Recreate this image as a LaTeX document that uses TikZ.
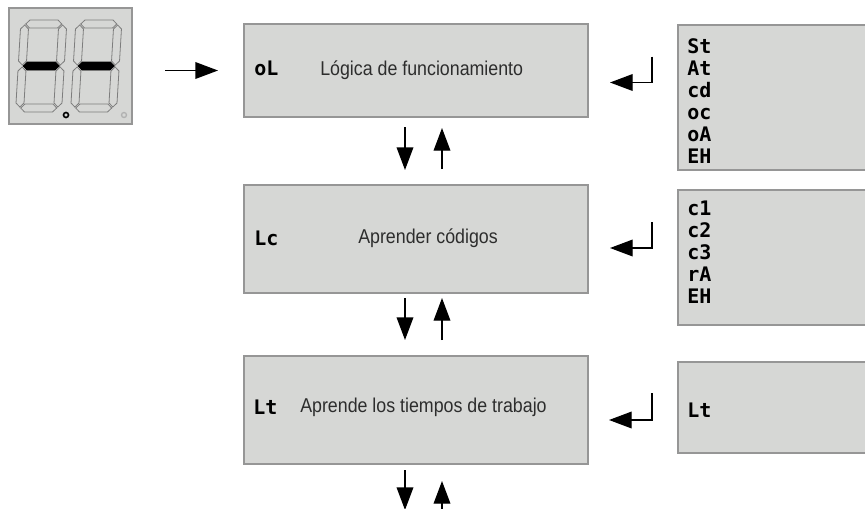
\documentclass[tikz,border=0pt]{standalone}
\usepackage{fontspec}
\usepackage{tikz}
\usetikzlibrary{arrows.meta}
\usetikzlibrary{calc}
\newfontfamily\labelfont[FakeStretch=0.89]{Liberation Sans}
\newfontfamily\codefont{DejaVu Sans Mono}

\definecolor{panelgray}{RGB}{214,215,213}
\definecolor{edgegray}{RGB}{150,150,150}
\definecolor{seggray}{RGB}{125,125,125}
\definecolor{textgray}{RGB}{45,45,45}

\tikzset{
  panel/.style={draw=edgegray, line width=1pt, fill=panelgray, inner sep=0pt, outer sep=0pt},
  mainbox/.style={panel, minimum width=258pt, minimum height=81pt},
  listbox/.style={panel, minimum width=166.5pt, anchor=west},
  flow/.style={-{Triangle[length=17pt,width=12.5pt]}, line width=1pt},
  boxtext/.style={font={\labelfont\fontsize{15}{18}\selectfont}, text=textgray, inner sep=0pt},
  codetext/.style={font={\codefont\bfseries\fontsize{15}{16.5}\selectfont}, align=left, inner sep=0pt},
  seg/.style={draw=seggray, line width=0.6pt}
}

% one segment of the display, horizontal / vertical
\newcommand{\hseg}[4][]{\draw[seg,#1] (#2,#4) -- (#2+4,#4-4) -- (#3-4,#4-4) -- (#3,#4) -- (#3-4,#4+4) -- (#2+4,#4+4) -- cycle;}
\newcommand{\vseg}[3]{\draw[seg] (#1,#2) -- (#1+4,#2+4) -- (#1+4,#3-4) -- (#1,#3) -- (#1-4,#3-4) -- (#1-4,#2+4) -- cycle;}
% a whole digit, only the middle segment lit
\newcommand{\sevenseg}[2]{%
  \begin{scope}[shift={(#1,#2)},xslant=-0.06]
    \hseg{5}{41}{4}
    \vseg{4}{5}{45}
    \vseg{42}{5}{45}
    \hseg[fill=black,draw=black]{5}{41}{46}
    \vseg{4}{47}{87}
    \vseg{42}{47}{87}
    \hseg{5}{41}{88}
  \end{scope}}

\begin{document}
\begin{tikzpicture}[x=0.75pt,y=0.75pt,yscale=-1]
    \clip (0,0) rectangle (865,508);

    %Shape: Display
    \node[panel, minimum width=92.25pt, minimum height=87pt] (disp) at (70.5,66) {};
    \sevenseg{21}{20}
    \sevenseg{76}{20}
    \draw[line width=1.2pt] (66,115) circle (2.5);
    \draw[line width=1pt, draw=seggray!60] (124,115) circle (2.5);

    %Shape: Menu boxes
    \node[mainbox, minimum height=69.75pt] (ol) at (416,70.5) {};
    \node[mainbox] (lc) at (416,239) {};
    \node[mainbox] (lt) at (416,410) {};

    %Shape: Option boxes
    \node[listbox, minimum height=108.75pt] (stl) at (678,97.5) {};
    \node[listbox, minimum height=101.25pt] (cl) at (678,257.5) {};
    \node[listbox, minimum height=68.25pt] (tl) at (678,407.5) {};

    % Text Node
    \node[codetext, anchor=west] (olc) at ($(ol.west)+(10,-2)$) {oL};
    \node[boxtext, anchor=west] (olt) at ($(ol.west)+(76,0)$) {Lógica de funcionamiento};
    % Text Node
    \node[codetext, anchor=west] (lcc) at ($(lc.west)+(10,-1)$) {Lc};
    \node[boxtext, anchor=west] (lct) at ($(lc.west)+(114,-1)$) {Aprender códigos};
    % Text Node
    \node[codetext, anchor=west] (ltc) at ($(lt.west)+(9,-3)$) {Lt};
    \node[boxtext, anchor=west] (ltt) at ($(lt.west)+(56,-3)$) {Aprende los tiempos de trabajo};
    % Text Node
    \node[codetext, anchor=north west] (stc) at ($(stl.north west)+(9,13)$) {St\\At\\cd\\oc\\oA\\EH};
    \node[codetext, anchor=north west] (clc) at ($(cl.north west)+(9,11)$) {c1\\c2\\c3\\rA\\EH};
    \node[codetext, anchor=west] (tlc) at ($(tl.west)+(9,2.5)$) {Lt};

    %Straight Lines: into the menu
    \draw[flow, shorten <=24.75pt, shorten >=19.5pt] (disp.east |- ol.west) -- (ol.west);

    %Straight Lines: down / up
    \draw[flow] ($(ol.south)+(-11,10)$) -- ($(lc.north)+(-11,-15)$);
    \draw[flow] ($(lc.north)+(26,-16)$) -- ($(ol.south)+(26,11)$);
    \draw[flow] ($(lc.south)+(-11,5)$) -- ($(lt.north)+(-11,-16)$);
    \draw[flow] ($(lt.north)+(26,-16)$) -- ($(lc.south)+(26,5)$);
    \coordinate (nxt) at (416,510);
    \draw[flow] ($(lt.south)+(-11,6)$) -- ($(nxt)+(-11,0)$);
    \draw[flow] ($(nxt)+(26,0)$) -- ($(lt.south)+(26,17)$);

    %Straight Lines: back from the options
    \draw[flow] ($(ol.east)+(64,-14)$) |- ($(ol.east)+(22,12)$);
    \draw[flow] ($(lc.east)+(64,-17)$) |- ($(lc.east)+(22,9)$);
    \draw[flow] ($(lt.east)+(64,-17)$) |- ($(lt.east)+(21,10)$);

\end{tikzpicture}
\end{document}
